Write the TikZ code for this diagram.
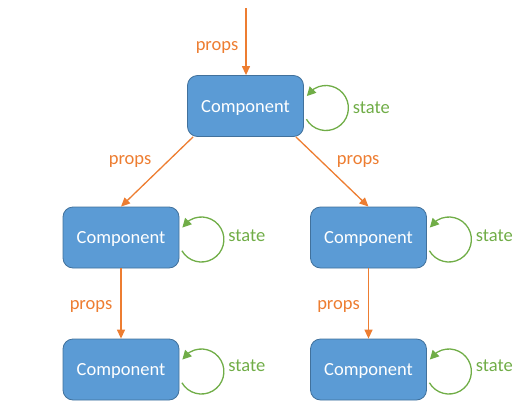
\documentclass[tikz,border=0pt]{standalone}
\usepackage{fontspec}
\setmainfont{Carlito}
\usetikzlibrary{arrows.meta,bending}
\definecolor{boxfill}{HTML}{5B9BD5}
\definecolor{boxline}{HTML}{41719C}
\definecolor{propcol}{HTML}{ED7D31}
\definecolor{statecol}{HTML}{70AD47}
\begin{document}
\begin{tikzpicture}[x=1pt,y=1pt,
  comp/.style={draw=boxline,fill=boxfill,line width=0.8pt,rounded corners=10pt,
    minimum width=116pt,minimum height=61pt,text=white,text height=12pt,text depth=0pt,
    font=\fontsize{18.5}{22}\selectfont},
  propsarrow/.style={draw=propcol,line width=1.3pt,-{Triangle[length=9pt,width=8pt]}},
  proplabel/.style={text=propcol,font=\fontsize{18.5}{22}\selectfont},
  stateloop/.style={draw=statecol,line width=1.3pt,-{Triangle[length=9pt,width=9pt]}},
  statelabel/.style={text=statecol,font=\fontsize{18.5}{22}\selectfont}]
\useasboundingbox (0,0) rectangle (520,-410);
\node[comp] (a) at (245.5,-106) {Component};
\node[comp] (b) at (121,-237.5) {Component};
\node[comp] (c) at (368.5,-237.5) {Component};
\node[comp] (d) at (121,-369.5) {Component};
\node[comp] (e) at (368.5,-369.5) {Component};
\coordinate (in) at (246,-8);
\draw[propsarrow] (in) -- (a.north -| in) node[midway,proplabel,xshift=-29pt,yshift=-6pt] {props};
\draw[propsarrow] ([xshift=6pt]a.south west) -- (b.north) node[midway,proplabel,xshift=-27pt,yshift=10pt] {props};
\draw[propsarrow] ([xshift=-8pt]a.south east) -- (c.north) node[midway,proplabel,xshift=26pt,yshift=10pt] {props};
\draw[propsarrow] (b.south) -- (d.north) node[midway,proplabel,xshift=-30pt,yshift=-3pt] {props};
\draw[propsarrow] (c.south) -- (e.north) node[midway,proplabel,xshift=-30pt,yshift=-3pt] {props};
\foreach \n/\dy in {a/-1.5,b/2,c/2,d/3.5,e/3.5}{
  \draw[stateloop] ([shift={(22pt,-2pt)}]\n.east) ++(210:22.5pt) arc[start angle=210,end angle=508,radius=22.5pt];
  \node[statelabel] (s\n) at ([shift={(67.5pt,\dy pt)}]\n.east) {state};
}
\end{tikzpicture}
\end{document}
